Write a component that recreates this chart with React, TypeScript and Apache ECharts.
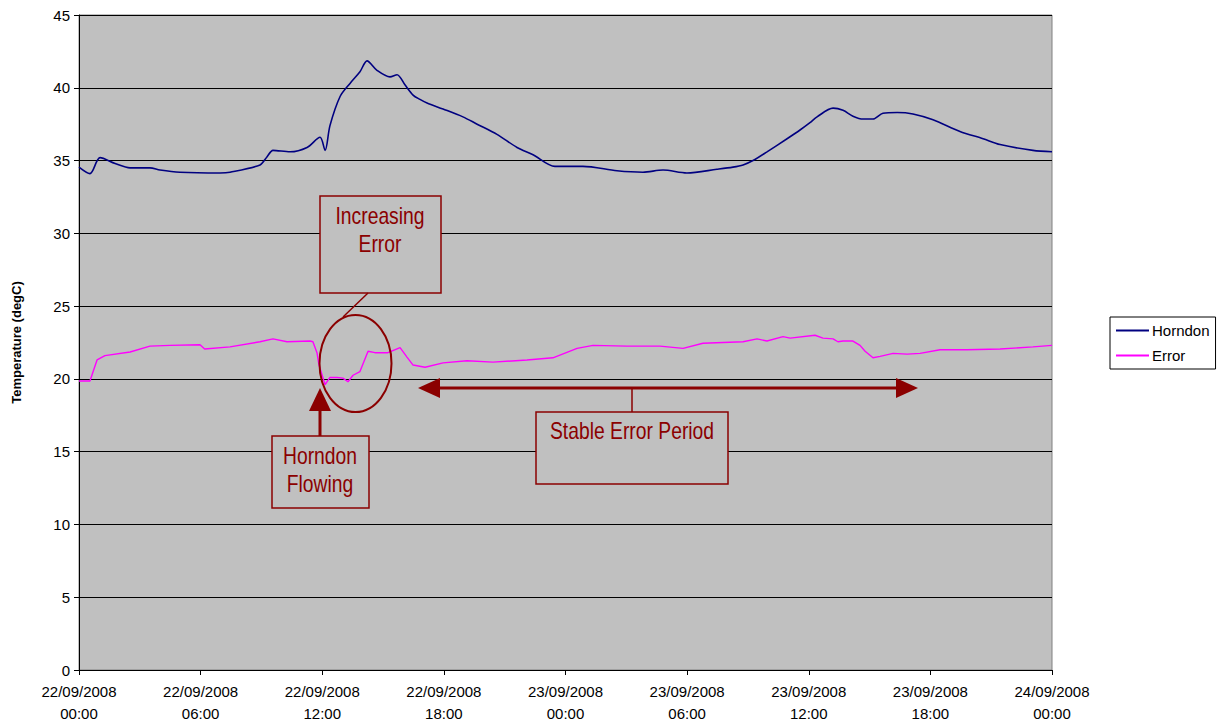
import React, { useEffect, useRef } from "react";
import * as echarts from "echarts";

// hours since 22/09/2008 00:00
const horndonHours = [0, 0.54, 1.04, 1.78, 2.52, 3.5, 4.0, 4.98, 6.96, 7.45, 8.93, 9.27, 9.57, 10.41, 11.25, 11.89, 12.14, 12.38, 12.88, 13.37, 13.86, 14.21, 14.7, 15.34, 15.69, 16.08, 16.48, 16.82, 17.17, 17.96, 18.94, 19.64, 20.62, 21.61, 22.4, 23.48, 24.86, 26.54, 27.82, 28.81, 29.99, 31.47, 32.26, 32.76, 33.25, 33.94, 34.93, 35.57, 36.06, 36.41, 37.2, 37.69, 38.18, 38.68, 39.17, 39.66, 40.36, 41.14, 42.13, 43.46, 44.6, 45.44, 47.06, 48];
const horndonValues = [34.55, 34.1, 35.2, 34.8, 34.5, 34.5, 34.35, 34.2, 34.15, 34.2, 34.7, 35.25, 35.7, 35.6, 35.9, 36.6, 35.7, 37.4, 39.4, 40.3, 41.1, 41.85, 41.2, 40.75, 40.9, 40.2, 39.5, 39.2, 38.95, 38.54, 38.0, 37.5, 36.8, 35.9, 35.4, 34.6, 34.6, 34.3, 34.2, 34.35, 34.15, 34.4, 34.55, 34.7, 35.0, 35.6, 36.5, 37.1, 37.6, 38.0, 38.6, 38.45, 38.05, 37.85, 37.85, 38.25, 38.3, 38.2, 37.8, 37.0, 36.5, 36.1, 35.7, 35.6];

const errorHours = [0, 0.54, 0.89, 1.28, 2.52, 3.5, 4.49, 5.97, 6.2, 7.45, 8.93, 9.57, 10.26, 11.4, 11.54, 11.74, 11.84, 12.14, 12.38, 12.73, 13.02, 13.27, 13.52, 13.86, 14.26, 14.6, 15.24, 15.84, 16.18, 16.48, 17.07, 17.96, 19.14, 20.42, 22.1, 23.38, 24.57, 25.36, 27.03, 28.66, 29.8, 30.78, 32.76, 33.45, 33.94, 34.73, 35.08, 36.31, 36.7, 37.2, 37.44, 37.69, 38.18, 38.53, 38.78, 39.17, 39.52, 40.16, 40.85, 41.49, 42.48, 43.81, 45.44, 47.06, 48];
const errorValues = [19.85, 19.85, 21.3, 21.6, 21.85, 22.25, 22.3, 22.35, 22.05, 22.2, 22.55, 22.75, 22.55, 22.6, 22.55, 21.8, 20.95, 19.6, 20.1, 20.1, 20.05, 19.8, 20.25, 20.5, 21.9, 21.8, 21.8, 22.15, 21.5, 20.95, 20.8, 21.1, 21.25, 21.15, 21.3, 21.45, 22.1, 22.3, 22.25, 22.25, 22.1, 22.45, 22.55, 22.75, 22.6, 22.9, 22.8, 23.0, 22.8, 22.75, 22.55, 22.6, 22.6, 22.3, 21.9, 21.45, 21.55, 21.75, 21.7, 21.75, 22.0, 22.0, 22.05, 22.2, 22.3];

const seriesNames = ["Horndon", "Error"];
const seriesColors = ["#000080", "#FF00FF"];
const yAxisName = "Temperature (degC)";
const startDay = 22;

const FONT = "'Liberation Sans', Arial, sans-serif";
const RED = "#8B0000";

function fmtX(v: number): string {
  const day = startDay + Math.floor(v / 24);
  const hr = Math.round(v % 24);
  const dd = String(day).padStart(2, "0");
  const hh = String(hr).padStart(2, "0");
  return `${dd}/09/2008\n${hh}:00`;
}

export default function App() {
  const ref = useRef<HTMLDivElement>(null);
  useEffect(() => {
    if (!ref.current) return;
    const chart = echarts.init(ref.current, undefined, { renderer: "svg" });
    const zip = (xs: number[], ys: number[]) => xs.map((x, i) => [x, ys[i]]);
    const boxText = (x: number, y: number, text: string) => ({
      type: "text",
      x,
      y,
      scaleX: 0.84,
      z: 20,
      style: {
        text,
        fill: RED,
        fontSize: 23,
        fontFamily: FONT,
        align: "center",
        verticalAlign: "middle",
      },
    });
    chart.setOption({
      animation: false,
      backgroundColor: "#ffffff",
      textStyle: { fontFamily: FONT },
      grid: {
        left: 79,
        right: 177,
        top: 15,
        bottom: 57,
        containLabel: false,
        outerBoundsMode: "none",
        show: true,
        backgroundColor: "#C0C0C0",
        borderColor: "#808080",
        borderWidth: 1,
      },
      legend: {
        orient: "vertical",
        left: 1110,
        top: 317,
        data: seriesNames,
        icon: "rect",
        itemWidth: 33,
        itemHeight: 2,
        itemGap: 10,
        padding: [6, 6, 6, 6],
        borderColor: "#000",
        borderWidth: 1,
        textStyle: { fontSize: 15, color: "#000", fontFamily: FONT, padding: [0, 0, 0, -2] },
      },
      xAxis: {
        type: "value",
        min: 0,
        max: 48,
        interval: 6,
        axisLine: { show: true, lineStyle: { color: "#000", width: 1 } },
        axisTick: { show: true, inside: false, length: 5, lineStyle: { color: "#000" } },
        splitLine: { show: false },
        axisLabel: {
          formatter: fmtX,
          color: "#000",
          fontSize: 15,
          lineHeight: 22,
          margin: 10,
          fontFamily: FONT,
        },
      },
      yAxis: {
        type: "value",
        min: 0,
        max: 45,
        interval: 5,
        name: yAxisName,
        nameLocation: "middle",
        nameGap: 56,
        nameTextStyle: { fontSize: 13, fontWeight: "bold", color: "#000", fontFamily: FONT },
        axisLine: { show: true, lineStyle: { color: "#000", width: 1 } },
        axisTick: { show: true, inside: false, length: 5, lineStyle: { color: "#000" } },
        splitLine: { show: true, lineStyle: { color: "#000", width: 1 } },
        axisLabel: { color: "#000", fontSize: 15, margin: 9, fontFamily: FONT },
      },
      series: [
        {
          name: seriesNames[0],
          type: "line",
          data: zip(horndonHours, horndonValues),
          symbol: "none",
          smooth: 0.3,
          lineStyle: { color: seriesColors[0], width: 1.6 },
          itemStyle: { color: seriesColors[0] },
          z: 3,
        },
        {
          name: seriesNames[1],
          type: "line",
          data: zip(errorHours, errorValues),
          symbol: "none",
          lineStyle: { color: seriesColors[1], width: 1.4 },
          itemStyle: { color: seriesColors[1] },
          z: 3,
        },
      ],
      graphic: [
        // Increasing Error box
        { type: "rect", shape: { x: 320, y: 196, width: 121, height: 97 }, style: { fill: "#C0C0C0", stroke: RED, lineWidth: 1.5 }, z: 10 },
        boxText(380, 216, "Increasing"),
        boxText(380, 244, "Error"),
        { type: "line", shape: { x1: 368, y1: 293, x2: 343, y2: 317 }, style: { stroke: RED, lineWidth: 1.5 }, z: 10 },
        { type: "ellipse", shape: { cx: 355.5, cy: 363.5, rx: 36, ry: 48.5 }, style: { fill: "none", stroke: RED, lineWidth: 2 }, z: 10 },
        // Horndon Flowing arrow + box
        { type: "line", shape: { x1: 320, y1: 410, x2: 320, y2: 436 }, style: { stroke: RED, lineWidth: 3 }, z: 10 },
        { type: "polygon", shape: { points: [[320, 388], [309, 411], [331, 411]] }, style: { fill: RED }, z: 10 },
        { type: "rect", shape: { x: 272, y: 436, width: 97, height: 72 }, style: { fill: "#C0C0C0", stroke: RED, lineWidth: 1.5 }, z: 10 },
        boxText(320, 456, "Horndon"),
        boxText(320, 484, "Flowing"),
        // Stable error period
        { type: "line", shape: { x1: 438, y1: 388, x2: 898, y2: 388 }, style: { stroke: RED, lineWidth: 3 }, z: 10 },
        { type: "polygon", shape: { points: [[418, 388], [440, 378], [440, 398]] }, style: { fill: RED }, z: 10 },
        { type: "polygon", shape: { points: [[918, 388], [896, 378], [896, 398]] }, style: { fill: RED }, z: 10 },
        { type: "line", shape: { x1: 632, y1: 388, x2: 632, y2: 412 }, style: { stroke: RED, lineWidth: 1.5 }, z: 10 },
        { type: "rect", shape: { x: 536, y: 412, width: 192, height: 72 }, style: { fill: "#C0C0C0", stroke: RED, lineWidth: 1.5 }, z: 10 },
        boxText(632, 431, "Stable Error Period"),
      ],
    });
    return () => chart.dispose();
  }, []);
  return (
    <div
      ref={ref}
      style={{ position: "fixed", left: 0, top: 0, width: 1229, height: 727 }}
    />
  );
}
